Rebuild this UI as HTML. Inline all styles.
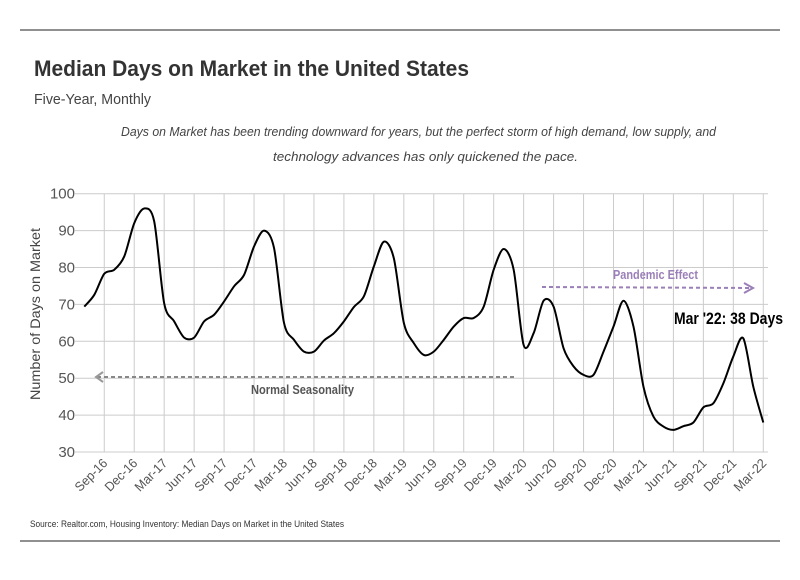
<!DOCTYPE html>
<html><head><meta charset="utf-8"><style>
body{margin:0;background:#fff;}
svg text{font-family:"Liberation Sans Narrow","Liberation Sans",sans-serif;}
</style></head><body>
<svg width="800" height="575" viewBox="0 0 800 575" xmlns="http://www.w3.org/2000/svg">
<line x1="20" y1="30" x2="780" y2="30" stroke="#222" stroke-width="1"/>
<line x1="20" y1="541" x2="780" y2="541" stroke="#222" stroke-width="1"/>
<text x="34" y="76" font-size="22" font-weight="bold" fill="#333" textLength="435" lengthAdjust="spacingAndGlyphs">Median Days on Market in the United States</text>
<text x="34" y="104" font-size="15" fill="#444" textLength="117" lengthAdjust="spacingAndGlyphs">Five-Year, Monthly</text>
<text x="121" y="136" font-size="13" font-style="italic" fill="#444" textLength="595" lengthAdjust="spacingAndGlyphs">Days on Market has been trending downward for years, but the perfect storm of high demand, low supply, and</text>
<text x="273" y="161" font-size="13" font-style="italic" fill="#444" textLength="305" lengthAdjust="spacingAndGlyphs">technology advances has only quickened the pace.</text>
<text transform="translate(40,314) rotate(-90)" font-size="14" fill="#444" text-anchor="middle" textLength="172" lengthAdjust="spacingAndGlyphs">Number of Days on Market</text>
<g id="grid"></g>
<g id="yt"></g>
<g id="xt"></g>
<path id="line" fill="none" stroke="#000" stroke-width="2"/>
<g>
<line x1="97" y1="377" x2="514" y2="377" stroke="#888" stroke-width="2" stroke-dasharray="4,3"/>
<polyline points="103,372 96,377 103,382" fill="none" stroke="#999" stroke-width="2"/>
<text x="251" y="394" font-size="13" font-weight="bold" fill="#555" textLength="103" lengthAdjust="spacingAndGlyphs">Normal Seasonality</text>
</g>
<g>
<line x1="542" y1="287" x2="752" y2="288" stroke="#9b7fb8" stroke-width="2" stroke-dasharray="4,3"/>
<polyline points="744,283 753,288 744,293" fill="none" stroke="#9b7fb8" stroke-width="2"/>
<text x="613" y="279" font-size="13" font-weight="bold" fill="#9b7fb8" textLength="85" lengthAdjust="spacingAndGlyphs">Pandemic Effect</text>
</g>
<text x="674" y="324" font-size="17" font-weight="bold" fill="#000" textLength="109" lengthAdjust="spacingAndGlyphs">Mar '22: 38 Days</text>
<text x="30" y="527" font-size="9" fill="#333" textLength="314" lengthAdjust="spacingAndGlyphs">Source:  Realtor.com, Housing Inventory: Median Days on Market in the United States</text>
</svg>
<script>
const yTicks=[30,40,50,60,70,80,90,100];
const xLabels=["Sep-16","Dec-16","Mar-17","Jun-17","Sep-17","Dec-17","Mar-18","Jun-18","Sep-18","Dec-18","Mar-19","Jun-19","Sep-19","Dec-19","Mar-20","Jun-20","Sep-20","Dec-20","Mar-21","Jun-21","Sep-21","Dec-21","Mar-22"];
const values=[69.4,72.6,78.3,79.4,83,92,96,92.5,70.3,65.4,61,61,65.4,67.2,70.8,74.9,78,85.7,90,85.3,65,60.4,57.2,57.2,60.2,62.2,65.4,69.3,72.2,80.3,87,82.5,65,59.5,56.3,57.2,60.4,64,66.3,66.3,69.4,79.4,85,79.4,59,62.2,71,69.4,58.1,53.2,50.9,50.9,57.2,64,71,64,47.7,39.6,36.9,36,37,38,42.1,43.2,48.6,55.9,60.8,47.7,38];
const NS="http://www.w3.org/2000/svg";
const x=m=>84.3+m*9.985;          // month index from Jul-16
const y=v=>452-(v-30)*3.69;
const grid=document.getElementById('grid'),yt=document.getElementById('yt'),xt=document.getElementById('xt');
function mk(tag,at,parent){const e=document.createElementNS(NS,tag);for(const k in at)e.setAttribute(k,at[k]);parent.appendChild(e);return e;}
yTicks.forEach(v=>{
  const l=mk('line',{x1:75,x2:768,y1:y(v),y2:y(v),stroke:'#ccc','stroke-width':1},grid);
  
  
  const t=mk('text',{x:75,y:y(v)+5,'font-size':15,fill:'#555','text-anchor':'end'},yt);
  t.textContent=v;
  
  
});
xLabels.forEach((s,i)=>{
  const xx=x(2+i*3);
  const l=mk('line',{x1:xx,x2:xx,y1:y(100),y2:y(30),stroke:'#ccc','stroke-width':1},grid);
  
  
  const t=mk('text',{transform:`translate(${xx+4},${y(30)+12}) rotate(-45)`,'font-size':13,fill:'#555','text-anchor':'end',textLength:40,lengthAdjust:'spacingAndGlyphs'},xt);
  t.textContent=s;
  
  
});
const pts=values.map((v,i)=>[x(i),y(v)]);
let d=`M${pts[0][0]},${pts[0][1]}`;
for(let i=0;i<pts.length-1;i++){
  const p0=pts[Math.max(0,i-1)],p1=pts[i],p2=pts[i+1],p3=pts[Math.min(pts.length-1,i+2)];
  const t=0.15;
  d+=` C${p1[0]+(p2[0]-p0[0])*t},${p1[1]+(p2[1]-p0[1])*t} ${p2[0]-(p3[0]-p1[0])*t},${p2[1]-(p3[1]-p1[1])*t} ${p2[0]},${p2[1]}`;
}
document.getElementById('line').setAttribute('d',d);
</script>
</body></html>
